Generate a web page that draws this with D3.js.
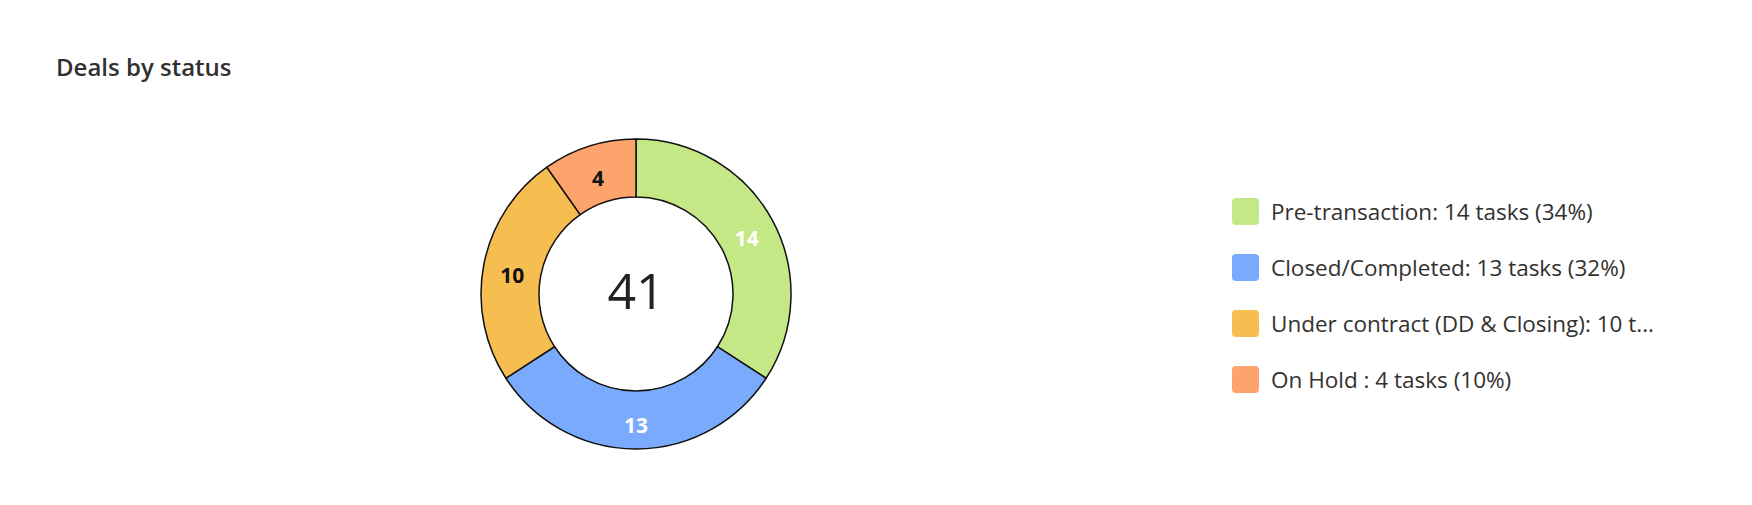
<!DOCTYPE html>
<html>
<head>
<meta charset="utf-8">
<script src="https://cdn.jsdelivr.net/npm/d3@7"></script>
<style>
  html, body { margin: 0; padding: 0; background: #fff; }
  svg { display: block; font-family: "Segoe UI", "Open Sans", sans-serif; }
</style>
</head>
<body>
<div id="root"></div>
<script>
const categories = ["Pre-transaction", "Closed/Completed", "Under contract (DD & Closing)", "On Hold "];
const values = [14, 13, 10, 4];
const colors = ["#c5e887", "#7aaafc", "#f6bd51", "#fda36c"];
const labelColors = ["#ffffff", "#ffffff", "#111111", "#111111"];

const width = 1752;
const height = 505;
const cx = 636;
const cy = 294;
const outerR = 155;
const innerR = 97;

const svg = d3.select("#root")
  .append("svg")
  .attr("width", width)
  .attr("height", height);

svg.append("text")
  .attr("x", 56)
  .attr("y", 76)
  .attr("fill", "#323130")
  .attr("font-size", 24)
  .attr("font-weight", 600)
  .text("Deals by status");

const data = categories.map((c, i) => ({ name: c, value: values[i], i }));
const total = d3.sum(values);

const pie = d3.pie().sort(null).value(d => d.value);
const arc = d3.arc().innerRadius(innerR).outerRadius(outerR);
const labelArc = d3.arc().innerRadius((innerR + outerR) / 2).outerRadius((innerR + outerR) / 2);

const g = svg.append("g").attr("transform", `translate(${cx},${cy})`);

const slices = g.selectAll("g.slice")
  .data(pie(data))
  .enter()
  .append("g")
  .attr("class", "slice");

slices.append("path")
  .attr("d", arc)
  .attr("fill", d => colors[d.data.i])
  .attr("stroke", "#111")
  .attr("stroke-width", 1.5);

slices.append("text")
  .attr("transform", d => `translate(${labelArc.centroid(d)})`)
  .attr("text-anchor", "middle")
  .attr("y", 5)
  .attr("dy", "0.36em")
  .attr("font-size", 21)
  .attr("font-weight", 700)
  .attr("fill", d => labelColors[d.data.i])
  .text(d => d.data.value);

g.append("text")
  .attr("text-anchor", "middle")
  .attr("y", 15)
  .attr("font-size", 50)
  .attr("fill", "#222")
  .text(total);

// legend
const legend = svg.append("g").attr("transform", "translate(1232,198)");
const rowGap = 56;

const rows = legend.selectAll("g.row")
  .data(data)
  .enter()
  .append("g")
  .attr("class", "row")
  .attr("transform", (d, i) => `translate(0,${i * rowGap})`);

rows.append("rect")
  .attr("width", 27)
  .attr("height", 27)
  .attr("rx", 4)
  .attr("fill", d => colors[d.i]);

rows.append("text")
  .attr("x", 39)
  .attr("y", 14)
  .attr("dy", "0.35em")
  .attr("font-size", 22.5)
  .attr("fill", "#323130")
  .text(d => {
    const s = `${d.name}: ${d.value} tasks (${Math.round(d.value / total * 100)}%)`;
    return s.length > 35 ? s.slice(0, 35) + "..." : s;
  });
</script>
</body>
</html>
